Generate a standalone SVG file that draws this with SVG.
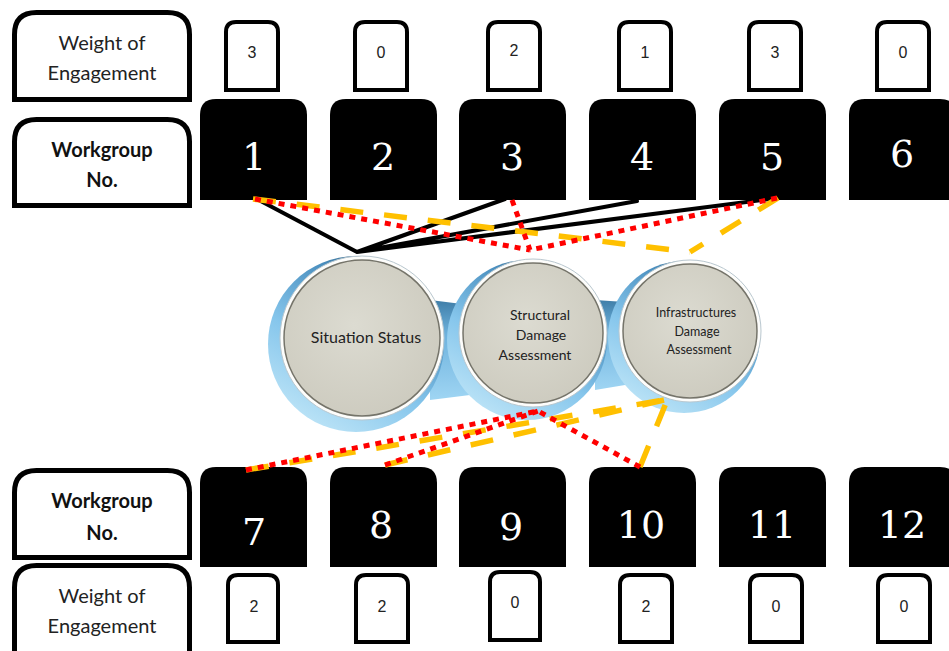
<svg xmlns="http://www.w3.org/2000/svg" width="949" height="651" viewBox="0 0 949 651">
  <style>
    .label { fill: #fff; stroke: #000; stroke-width: 5; }
    .lbl { font-family: Lato, "Liberation Sans", sans-serif; font-size: 20px; fill: #222; text-anchor: middle; }
    .lblb { font-family: Lato, "Liberation Sans", sans-serif; font-size: 20px; font-weight: bold; fill: #111; text-anchor: middle; }
    .wbox { fill: #fff; stroke: #000; stroke-width: 4; }
    .wnum { font-family: "Liberation Sans", sans-serif; font-size: 16px; fill: #222; text-anchor: middle; }
    .wg { fill: #000; }
    .wgnum { font-family: "DejaVu Serif", "Liberation Serif", serif; font-size: 38px; fill: #fff; text-anchor: middle; }
    .face { fill: url(#faceGrad); stroke: #75746a; stroke-width: 1.5; }
    .ring { fill: #fdfdfb; stroke: #b9c7cf; stroke-width: 1; }
    .rim { fill: url(#rimGrad); }
    .body { fill: url(#bodyGrad); }
    .ctext { font-family: Lato, "Liberation Sans", sans-serif; fill: #222; text-anchor: middle; }
    .solid { stroke: #000; stroke-width: 4; fill: none; stroke-linecap: round; }
    .dot { stroke: #ff0000; stroke-width: 5; fill: none; stroke-dasharray: 6 6; }
    .dash { stroke: #ffc000; stroke-width: 5.5; fill: none; stroke-dasharray: 23 21; }
  </style>
  <defs>
    <radialGradient id="faceGrad" cx="0.45" cy="0.42" r="0.65">
      <stop offset="0" stop-color="#dcdbd1"/>
      <stop offset="1" stop-color="#cccabe"/>
    </radialGradient>
    <linearGradient id="rimGrad" x1="0.8" y1="0" x2="0.2" y2="1">
      <stop offset="0" stop-color="#2a4658"/>
      <stop offset="0.25" stop-color="#4a8fbf"/>
      <stop offset="0.6" stop-color="#86c6ec"/>
      <stop offset="1" stop-color="#c2e7f8"/>
    </linearGradient>
    <linearGradient id="bodyGrad" x1="0" y1="0" x2="0" y2="1">
      <stop offset="0" stop-color="#3f7ea8"/>
      <stop offset="0.35" stop-color="#6fb3de"/>
      <stop offset="1" stop-color="#9fd5f3"/>
    </linearGradient>
  </defs>

  <!-- row labels -->
  <g id="label-weight-top">
    <path class="label" d="M14.5 99.5 V34.5 Q14.5 12.5 36.5 12.5 H167.5 Q189.5 12.5 189.5 34.5 V99.5 Z"/>
    <text class="lbl" x="102" y="50">Weight of</text>
    <text class="lbl" x="102" y="80">Engagement</text>
  </g>
  <g id="label-workgroup-top">
    <path class="label" d="M14.5 205.5 V141.5 Q14.5 119.5 36.5 119.5 H167.5 Q189.5 119.5 189.5 141.5 V205.5 Z"/>
    <text class="lblb" x="102" y="157">Workgroup</text>
    <text class="lblb" x="102" y="187">No.</text>
  </g>
  <g id="label-workgroup-bottom">
    <path class="label" d="M14.5 557.5 V492.5 Q14.5 470.5 36.5 470.5 H167.5 Q189.5 470.5 189.5 492.5 V557.5 Z"/>
    <text class="lblb" x="102" y="508">Workgroup</text>
    <text class="lblb" x="102" y="540">No.</text>
  </g>
  <g id="label-weight-bottom">
    <path class="label" d="M14.5 665 V587.5 Q14.5 565.5 36.5 565.5 H167.5 Q189.5 565.5 189.5 587.5 V665 Z"/>
    <text class="lbl" x="102" y="603">Weight of</text>
    <text class="lbl" x="102" y="633">Engagement</text>
  </g>

  <!-- top workgroups -->
  <g id="wg1">
    <path class="wbox" d="M226 90 V32 Q226 22 236 22 H268 Q278 22 278 32 V90 Z"/>
    <text class="wnum" x="252" y="58">3</text>
    <path class="wg" d="M200 200 V115 Q200 99 216 99 H291 Q307 99 307 115 V200 Z"/>
    <text class="wgnum" x="254" y="170">1</text>
  </g>
  <g id="wg2">
    <path class="wbox" d="M355 90 V32 Q355 22 365 22 H397 Q407 22 407 32 V90 Z"/>
    <text class="wnum" x="381" y="58">0</text>
    <path class="wg" d="M330 200 V115 Q330 99 346 99 H421 Q437 99 437 115 V200 Z"/>
    <text class="wgnum" x="383" y="170">2</text>
  </g>
  <g id="wg3">
    <path class="wbox" d="M488 90 V32 Q488 22 498 22 H530 Q540 22 540 32 V90 Z"/>
    <text class="wnum" x="514" y="56">2</text>
    <path class="wg" d="M459 200 V115 Q459 99 475 99 H550 Q566 99 566 115 V200 Z"/>
    <text class="wgnum" x="512" y="170">3</text>
  </g>
  <g id="wg4">
    <path class="wbox" d="M619 90 V32 Q619 22 629 22 H661 Q671 22 671 32 V90 Z"/>
    <text class="wnum" x="645" y="58">1</text>
    <path class="wg" d="M589 200 V115 Q589 99 605 99 H680 Q696 99 696 115 V200 Z"/>
    <text class="wgnum" x="642" y="170">4</text>
  </g>
  <g id="wg5">
    <path class="wbox" d="M749 90 V32 Q749 22 759 22 H791 Q801 22 801 32 V90 Z"/>
    <text class="wnum" x="775" y="58">3</text>
    <path class="wg" d="M719 200 V115 Q719 99 735 99 H810 Q826 99 826 115 V200 Z"/>
    <text class="wgnum" x="772" y="170">5</text>
  </g>
  <g id="wg6">
    <path class="wbox" d="M877 90 V32 Q877 22 887 22 H919 Q929 22 929 32 V90 Z"/>
    <text class="wnum" x="903" y="58">0</text>
    <path class="wg" d="M849 200 V115 Q849 99 865 99 H940 Q956 99 956 115 V200 Z"/>
    <text class="wgnum" x="902" y="167">6</text>
  </g>

  <!-- bottom workgroups -->
  <g id="wg7">
    <path class="wg" d="M200 567 V483 Q200 467 216 467 H291 Q307 467 307 483 V567 Z"/>
    <text class="wgnum" x="254" y="545">7</text>
    <path class="wbox" d="M228 642 V585 Q228 575 238 575 H268 Q278 575 278 585 V642 Z"/>
    <text class="wnum" x="254" y="612">2</text>
  </g>
  <g id="wg8">
    <path class="wg" d="M330 567 V483 Q330 467 346 467 H421 Q437 467 437 483 V567 Z"/>
    <text class="wgnum" x="381" y="538">8</text>
    <path class="wbox" d="M356 642 V585 Q356 575 366 575 H398 Q408 575 408 585 V642 Z"/>
    <text class="wnum" x="382" y="612">2</text>
  </g>
  <g id="wg9">
    <path class="wg" d="M459 567 V483 Q459 467 475 467 H550 Q566 467 566 483 V567 Z"/>
    <text class="wgnum" x="511" y="540">9</text>
    <path class="wbox" d="M490 640 V582 Q490 572 500 572 H530 Q540 572 540 582 V640 Z"/>
    <text class="wnum" x="515" y="608">0</text>
  </g>
  <g id="wg10">
    <path class="wg" d="M589 567 V483 Q589 467 605 467 H680 Q696 467 696 483 V567 Z"/>
    <text class="wgnum" x="641" y="538">10</text>
    <path class="wbox" d="M620 642 V585 Q620 575 630 575 H662 Q672 575 672 585 V642 Z"/>
    <text class="wnum" x="646" y="612">2</text>
  </g>
  <g id="wg11">
    <path class="wg" d="M719 567 V483 Q719 467 735 467 H810 Q826 467 826 483 V567 Z"/>
    <text class="wgnum" x="772" y="538">11</text>
    <path class="wbox" d="M750 642 V585 Q750 575 760 575 H792 Q802 575 802 585 V642 Z"/>
    <text class="wnum" x="776" y="612">0</text>
  </g>
  <g id="wg12">
    <path class="wg" d="M849 567 V483 Q849 467 865 467 H940 Q956 467 956 483 V567 Z"/>
    <text class="wgnum" x="902" y="538">12</text>
    <path class="wbox" d="M878 642 V585 Q878 575 888 575 H920 Q930 575 930 585 V642 Z"/>
    <text class="wnum" x="904" y="612">0</text>
  </g>

  <!-- assessment cylinders: blue body behind, white rim, grey face -->
  <g id="cylinder-body">
    <polygon class="body" points="430,300 470,305 470,395 430,400"/>
    <polygon class="body" points="595,300 625,302 625,385 595,390"/>
  </g>
  <g id="situation-status">
    <circle class="rim" cx="356" cy="344" r="88"/>
    <circle class="ring" cx="362" cy="338" r="82"/>
    <circle class="face" cx="362" cy="338" r="78"/>
    <text class="ctext" x="366" y="343" font-size="16">Situation Status</text>
  </g>
  <g id="structural-damage">
    <circle class="rim" cx="527" cy="340" r="80"/>
    <circle class="ring" cx="533" cy="333" r="74"/>
    <circle class="face" cx="533" cy="333" r="70"/>
    <text class="ctext" x="540" y="320" font-size="14">Structural</text>
    <text class="ctext" x="541" y="340" font-size="14">Damage</text>
    <text class="ctext" x="535" y="360" font-size="14">Assessment</text>
  </g>
  <g id="infrastructures-damage">
    <circle class="rim" cx="684" cy="337" r="76"/>
    <circle class="ring" cx="690" cy="331" r="71"/>
    <circle class="face" cx="690" cy="331" r="67"/>
    <text class="ctext" x="696" y="317" font-size="12.5">Infrastructures</text>
    <text class="ctext" x="697" y="336" font-size="12.5">Damage</text>
    <text class="ctext" x="699" y="354" font-size="12.5">Assessment</text>
  </g>

  <!-- connectors -->
  <g id="connectors">
    <path class="solid" d="M357 252 L255 198 M357 252 L505 199 M357 252 L637 201 M357 252 L770 199"/>
    <path class="dash" d="M253 199 L690 252 M778 198 L690 252"/>
    <path class="dash" d="M246 470 L664 400 M385 465 L664 400 M640 467 L668 398"/>
    <path class="dot" d="M255 199 L530 250 M512 200 L530 250 M777 198 L530 250"/>
    <path class="dot" d="M246 470 L538 411 M385 465 L538 411 M640 467 L538 411"/>
  </g>
</svg>
